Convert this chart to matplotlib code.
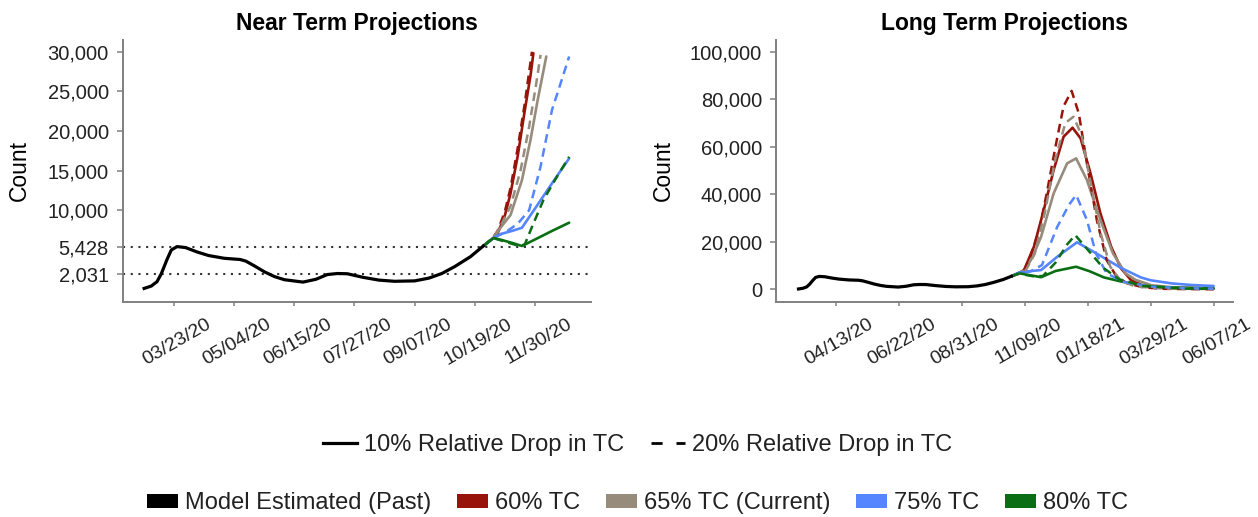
import pandas as pd
import matplotlib
matplotlib.use('Agg')
import matplotlib.pyplot as plt
import matplotlib.dates as mdates
from matplotlib.lines import Line2D
from matplotlib.patches import Patch
from matplotlib.transforms import ScaledTranslation

plt.rcParams['font.family'] = ['Liberation Sans', 'DejaVu Sans']

# Data #

past_dates = ['2020-03-02', '2020-03-07', '2020-03-11', '2020-03-14', '2020-03-18', '2020-03-21',
              '2020-03-25', '2020-03-31', '2020-04-08', '2020-04-16', '2020-04-27', '2020-05-08',
              '2020-05-12', '2020-05-18', '2020-05-25', '2020-06-01', '2020-06-08', '2020-06-21',
              '2020-06-30', '2020-07-08', '2020-07-15', '2020-07-22', '2020-08-02', '2020-08-13',
              '2020-08-24', '2020-09-07', '2020-09-17', '2020-09-26', '2020-10-05', '2020-10-16',
              '2020-10-25']
past_vals = [150, 450, 1000, 2000, 3800, 5000,
             5428, 5300, 4750, 4300, 3950, 3800,
             3600, 3000, 2250, 1650, 1250, 950,
             1300, 1900, 2031, 2000, 1550, 1200,
             1050, 1100, 1450, 2031, 2900, 4150,
             5500]

# near term projections, 10% drop (solid) and 20% drop (dashed)
nt_red_x = ['2020-10-25', '2020-11-01', '2020-11-04', '2020-11-09', '2020-11-13', '2020-11-18', '2020-11-23', '2020-11-27', '2020-11-29']
nt_red_y = [5500, 6500, 7100, 9300, 12100, 16800, 22600, 27000, 29800]
nt_red_dash_x = ['2020-10-25', '2020-11-01', '2020-11-04', '2020-11-09', '2020-11-13', '2020-11-18', '2020-11-23', '2020-11-28']
nt_red_dash_y = [5500, 6600, 7400, 9800, 12800, 17800, 23500, 30000]
nt_tan_x = ['2020-10-25', '2020-11-01', '2020-11-06', '2020-11-13', '2020-11-21', '2020-11-27', '2020-12-02', '2020-12-08']
nt_tan_y = [5500, 6500, 7800, 9400, 13800, 18900, 23900, 29400]
nt_tan_dash_x = ['2020-10-25', '2020-11-01', '2020-11-06', '2020-11-13', '2020-11-20', '2020-11-26', '2020-12-01', '2020-12-04']
nt_tan_dash_y = [5500, 6500, 8000, 10500, 15000, 20500, 26000, 29600]
nt_blue_x = ['2020-10-25', '2020-11-01', '2020-11-06', '2020-11-14', '2020-11-21', '2020-12-01', '2020-12-12', '2020-12-24']
nt_blue_y = [5500, 6500, 7000, 7400, 7800, 10450, 13400, 16550]
nt_blue_dash_x = ['2020-10-25', '2020-11-01', '2020-11-10', '2020-11-18', '2020-11-26', '2020-12-04', '2020-12-12', '2020-12-18', '2020-12-24']
nt_blue_dash_y = [5500, 6500, 7300, 8300, 10000, 15500, 22650, 26000, 29400]
nt_green_x = ['2020-10-25', '2020-11-01', '2020-11-06', '2020-11-14', '2020-11-21', '2020-12-01', '2020-12-12', '2020-12-24']
nt_green_y = [5500, 6500, 6300, 5900, 5500, 6400, 7400, 8440]
nt_green_dash_x = ['2020-10-25', '2020-11-01', '2020-11-10', '2020-11-19', '2020-11-23', '2020-11-28', '2020-12-06', '2020-12-14', '2020-12-24']
nt_green_dash_y = [5500, 6500, 6000, 5500, 5700, 7900, 11300, 13800, 16750]

# long term projections
lt_red_x = ['2020-10-25', '2020-11-02', '2020-11-08', '2020-11-19', '2020-11-30', '2020-12-11', '2020-12-22', '2021-01-01',
            '2021-01-10', '2021-01-21', '2021-02-01', '2021-02-13', '2021-02-24', '2021-03-07', '2021-03-21', '2021-04-12',
            '2021-05-10', '2021-06-07']
lt_red_y = [5500, 6800, 8100, 17900, 33400, 50200, 64200, 68000,
            63500, 48800, 32000, 17900, 8800, 3900, 1500, 600,
            350, 300]
lt_red_dash_x = ['2020-10-25', '2020-11-02', '2020-11-08', '2020-11-15', '2020-11-25', '2020-12-04', '2020-12-13', '2020-12-22',
                 '2020-12-31', '2021-01-08', '2021-01-17', '2021-01-28', '2021-02-08', '2021-02-19', '2021-03-03', '2021-03-21',
                 '2021-04-12', '2021-06-07']
lt_red_dash_y = [5500, 6500, 7800, 13700, 25000, 41800, 60000, 77000,
                 83500, 74000, 53000, 29200, 12300, 5300, 2500, 800,
                 200, 0]
lt_tan_x = ['2020-10-25', '2020-11-02', '2020-11-10', '2020-11-18', '2020-11-27', '2020-12-11', '2020-12-26', '2021-01-05',
            '2021-01-17', '2021-02-01', '2021-02-15', '2021-03-01', '2021-03-12', '2021-03-30', '2021-04-21', '2021-06-07']
lt_tan_y = [5500, 6700, 8500, 14000, 22100, 40400, 53000, 55100,
            46000, 29200, 15100, 6700, 4000, 1700, 900, 500]
lt_tan_dash_x = ['2020-10-25', '2020-11-02', '2020-11-10', '2020-11-20', '2020-12-01', '2020-12-13', '2020-12-24', '2021-01-02',
                 '2021-01-11', '2021-01-21', '2021-02-01', '2021-02-12', '2021-02-24', '2021-03-12', '2021-04-12', '2021-06-07']
lt_tan_dash_y = [5500, 6500, 8000, 15000, 32000, 55000, 70000, 72600,
                 65000, 45000, 24000, 9500, 3500, 1200, 300, 100]
lt_blue_x = ['2020-10-25', '2020-11-02', '2020-11-16', '2020-11-27', '2020-12-15', '2021-01-06', '2021-01-28', '2021-02-24',
             '2021-03-18', '2021-03-29', '2021-04-21', '2021-05-14', '2021-06-07']
lt_blue_y = [5500, 7000, 7700, 8100, 13700, 19800, 15000, 9000,
             5000, 3800, 2500, 1800, 1400]
lt_blue_dash_x = ['2020-10-25', '2020-11-02', '2020-11-15', '2020-11-28', '2020-12-15', '2020-12-28', '2021-01-05', '2021-01-17',
                  '2021-01-27', '2021-02-08', '2021-02-27', '2021-03-30', '2021-05-05', '2021-06-07']
lt_blue_dash_y = [5500, 6800, 7500, 10200, 26300, 35500, 39700, 29200,
                  15150, 6700, 3100, 1100, 500, 300]
lt_green_x = ['2020-10-25', '2020-11-02', '2020-11-27', '2020-12-13', '2021-01-05', '2021-01-20', '2021-02-05', '2021-02-24',
              '2021-03-21', '2021-04-21', '2021-06-07']
lt_green_y = [5500, 6800, 5100, 7700, 9500, 7600, 5000, 3300,
              1500, 700, 350]
lt_green_dash_x = ['2020-10-25', '2020-11-02', '2020-11-18', '2020-11-29', '2020-12-13', '2020-12-26', '2021-01-04', '2021-01-16',
                   '2021-02-04', '2021-02-22', '2021-03-21', '2021-05-05', '2021-06-07']
lt_green_dash_y = [5500, 6600, 5500, 5600, 11200, 18900, 22800, 17500,
                   9100, 4200, 1400, 300, 200]

nt_ticks = ['2020-03-23', '2020-05-04', '2020-06-15', '2020-07-27', '2020-09-07', '2020-10-19', '2020-11-30']
lt_ticks = ['2020-04-13', '2020-06-22', '2020-08-31', '2020-11-09', '2021-01-18', '2021-03-29', '2021-06-07']
nt_yticks = [2031, 5428, 10000, 15000, 20000, 25000, 30000]
lt_yticks = [0, 20000, 40000, 60000, 80000, 100000]

scenarios = ['60% TC', '65% TC (Current)', '75% TC', '80% TC']
colors = ['#98140A', '#978B7B', '#5585FF', '#0A6E14']

# Helpers #

def d(dates):
    return pd.to_datetime(dates)

def style_axes(ax, fig, ticks, yticks, xlim, ylim, title, ylab_x):
    ax.set_xlim(d(xlim))
    ax.set_ylim(ylim)
    ax.set_xticks(d(ticks))
    ax.xaxis.set_major_formatter(mdates.DateFormatter('%m/%d/%y'))
    ax.set_yticks(yticks)
    ax.set_yticklabels([f'{v:,}' for v in yticks])
    for side in ['top', 'right']:
        ax.spines[side].set_visible(False)
    for side in ['left', 'bottom']:
        ax.spines[side].set_color('#808080')
        ax.spines[side].set_linewidth(1.4)
    ax.tick_params(axis='y', length=4, width=1.1, color='#808080', pad=6, labelsize=14.5, labelcolor='#222222')
    ax.tick_params(axis='x', length=3, width=1.1, color='#808080', pad=12.2, labelsize=14, labelcolor='#222222')
    shift = ScaledTranslation(0.36, 0, fig.dpi_scale_trans)
    for lab in ax.get_xticklabels():
        lab.set_rotation(30)
        lab.set_ha('right')
        lab.set_va('center')
        lab.set_rotation_mode('anchor')
        lab.set_transform(lab.get_transform() + shift)
    ax.set_title(title, fontsize=16.5, fontweight='bold', pad=7)
    ax.set_ylabel('Count', fontsize=16.5)
    ax.yaxis.set_label_coords(ylab_x, 0.5)

def draw_proj(ax, series):
    for (x, y, ls), c in series:
        if ls == '-':
            ax.plot(d(x), y, color=c, lw=1.9, solid_capstyle='round')
        else:
            ax.plot(d(x), y, color=c, lw=1.8, linestyle=(0, (3.5, 2.2)))

# Plot #

fig = plt.figure(figsize=(12.58, 5.17), dpi=100)
ax1 = fig.add_axes([0.0975, 0.4164, 0.3720, 0.5062])
ax2 = fig.add_axes([0.6169, 0.4164, 0.3635, 0.5062])

# near term
for v in [5428, 2031]:
    ax1.axhline(v, color='#333333', lw=1.5, linestyle=(0, (1, 2.7)), zorder=1)
ax1.plot(d(past_dates), past_vals, color='black', lw=2.3, zorder=3)
draw_proj(ax1, [
    ((nt_red_x, nt_red_y, '-'), colors[0]),
    ((nt_red_dash_x, nt_red_dash_y, '--'), colors[0]),
    ((nt_tan_x, nt_tan_y, '-'), colors[1]),
    ((nt_tan_dash_x, nt_tan_dash_y, '--'), colors[1]),
    ((nt_blue_x, nt_blue_y, '-'), colors[2]),
    ((nt_blue_dash_x, nt_blue_dash_y, '--'), colors[2]),
    ((nt_green_x, nt_green_y, '-'), colors[3]),
    ((nt_green_dash_x, nt_green_dash_y, '--'), colors[3]),
])
style_axes(ax1, fig, nt_ticks, nt_yticks, ['2020-02-16', '2021-01-08'], (-1526, 31475),
           'Near Term Projections', -0.196)

# long term
ax2.plot(d(past_dates), past_vals, color='black', lw=2.3, zorder=3)
draw_proj(ax2, [
    ((lt_red_x, lt_red_y, '-'), colors[0]),
    ((lt_tan_x, lt_tan_y, '-'), colors[1]),
    ((lt_blue_x, lt_blue_y, '-'), colors[2]),
    ((lt_green_x, lt_green_y, '-'), colors[3]),
    ((lt_red_dash_x, lt_red_dash_y, '--'), colors[0]),
    ((lt_tan_dash_x, lt_tan_dash_y, '--'), colors[1]),
    ((lt_blue_dash_x, lt_blue_dash_y, '--'), colors[2]),
    ((lt_green_dash_x, lt_green_dash_y, '--'), colors[3]),
])
style_axes(ax2, fig, lt_ticks, lt_yticks, ['2020-02-06', '2021-06-29'], (-5220, 104900),
           'Long Term Projections', -0.222)

# legends
line_handles = [
    Line2D([], [], color='black', lw=2.3),
    Line2D([], [], color='black', lw=2.0, linestyle=(0, (4, 5))),
]
fig.legend(line_handles, ['10% Relative Drop in TC', '20% Relative Drop in TC'],
           loc='center', bbox_to_anchor=(0.5068, 0.139), ncol=2, frameon=False,
           fontsize=17, handlelength=1.45, handletextpad=0.3, columnspacing=1.1,
           labelcolor='#222222')

patch_handles = [Patch(facecolor='black', edgecolor='none')]
patch_handles += [Patch(facecolor=c, edgecolor='none') for c in colors]
fig.legend(patch_handles, ['Model Estimated (Past)'] + scenarios,
           loc='center', bbox_to_anchor=(0.5068, 0.027), ncol=5, frameon=False,
           fontsize=17, handlelength=1.3, handleheight=0.55, handletextpad=0.3,
           columnspacing=1.1, labelcolor='#222222')

fig.savefig('out.png', dpi=100)
